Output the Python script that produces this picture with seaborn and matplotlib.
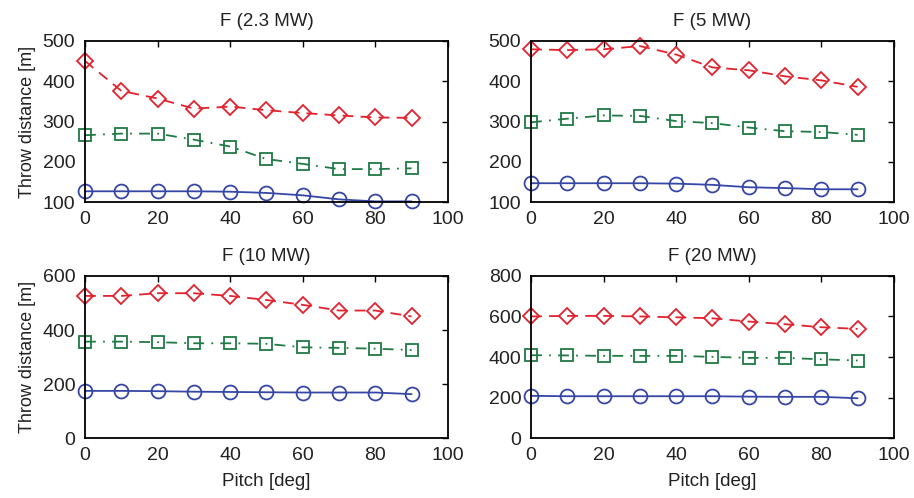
import matplotlib
matplotlib.use("Agg")
import matplotlib.pyplot as plt
import seaborn as sns
import numpy as np

pitch = [0, 10, 20, 30, 40, 50, 60, 70, 80, 90]

titles = ["F (2.3 MW)", "F (5 MW)", "F (10 MW)", "F (20 MW)"]

red_23 = [450, 376, 357, 332, 337, 328, 321, 315, 310, 309]
green_23 = [266, 270, 270, 255, 238, 207, 195, 182, 182, 184]
blue_23 = [127, 127, 127, 127, 126, 123, 117, 107, 102, 102]

red_5 = [479, 477, 479, 487, 466, 434, 427, 412, 402, 386]
green_5 = [298, 307, 315, 314, 301, 296, 285, 276, 274, 267]
blue_5 = [147, 147, 147, 147, 146, 143, 137, 135, 132, 132]

red_10 = [526, 526, 536, 536, 526, 511, 493, 472, 472, 450]
green_10 = [357, 357, 355, 351, 351, 349, 336, 334, 331, 326]
blue_10 = [175, 175, 174, 172, 171, 170, 169, 169, 169, 163]

red_20 = [600, 603, 603, 600, 596, 591, 575, 562, 547, 539]
green_20 = [409, 408, 406, 406, 406, 401, 396, 396, 389, 383]
blue_20 = [209, 207, 207, 207, 207, 207, 205, 204, 204, 197]

ylims = [(100, 500), (100, 500), (0, 600), (0, 800)]
yticks = [[100, 200, 300, 400, 500], [100, 200, 300, 400, 500],
          [0, 200, 400, 600], [0, 200, 400, 600, 800]]
xticks = [0, 20, 40, 60, 80, 100]

sns.set_theme(style="white")
plt.rcParams['font.family'] = ['Liberation Sans', 'DejaVu Sans']

RED = "#e3222e"
GREEN = "#1f7a45"
BLUE = "#3646a6"
TXT = "#222222"

fig = plt.figure(figsize=(9.14, 4.98), dpi=100)
positions = [
    [0.093, 0.594, 0.397, 0.324],
    [0.581, 0.594, 0.397, 0.324],
    [0.093, 0.120, 0.397, 0.326],
    [0.581, 0.120, 0.397, 0.326],
]
data = [
    (red_23, green_23, blue_23),
    (red_5, green_5, blue_5),
    (red_10, green_10, blue_10),
    (red_20, green_20, blue_20),
]

for i, pos in enumerate(positions):
    ax = fig.add_axes(pos)
    r, g, b = data[i]
    sns.lineplot(x=pitch, y=r, ax=ax, color=RED, marker="D", markersize=8.5,
                 markerfacecolor="none", markeredgecolor=RED, markeredgewidth=1.3,
                 linewidth=1.3)
    ax.lines[-1].set_linestyle((0, (6, 4)))
    sns.lineplot(x=pitch, y=g, ax=ax, color=GREEN, marker="s", markersize=8,
                 markerfacecolor="none", markeredgecolor=GREEN, markeredgewidth=1.3,
                 linewidth=1.3)
    ax.lines[-1].set_linestyle((0, (6, 4, 1, 4)))
    sns.lineplot(x=pitch, y=b, ax=ax, color=BLUE, marker="o", markersize=10,
                 markerfacecolor="none", markeredgecolor=BLUE, markeredgewidth=1.3,
                 linewidth=1.3)
    for ln in ax.lines:
        ln.set_clip_on(False)
    ax.set_xlim(0, 100)
    ax.set_ylim(*ylims[i])
    ax.set_xticks(xticks)
    ax.set_yticks(yticks[i])
    ax.tick_params(direction="in", top=True, right=True, length=4, width=1,
                   labelsize=14, labelcolor=TXT, color="black")
    ax.tick_params(axis="y", pad=7)
    ax.tick_params(axis="x", pad=6)
    for s in ax.spines.values():
        s.set_color("black")
        s.set_linewidth(1.3)
    ax.set_title(titles[i], fontsize=13.5, pad=11, color=TXT)
    ax.set_xlabel("")
    ax.set_ylabel("")
    if i in (0, 2):
        ax.set_ylabel("Throw distance [m]", fontsize=13, labelpad=5, color=TXT)
    if i in (2, 3):
        ax.set_xlabel("Pitch [deg]", fontsize=13.5, labelpad=7, color=TXT)
    ax.grid(False)

fig.savefig("out.png", dpi=100)
